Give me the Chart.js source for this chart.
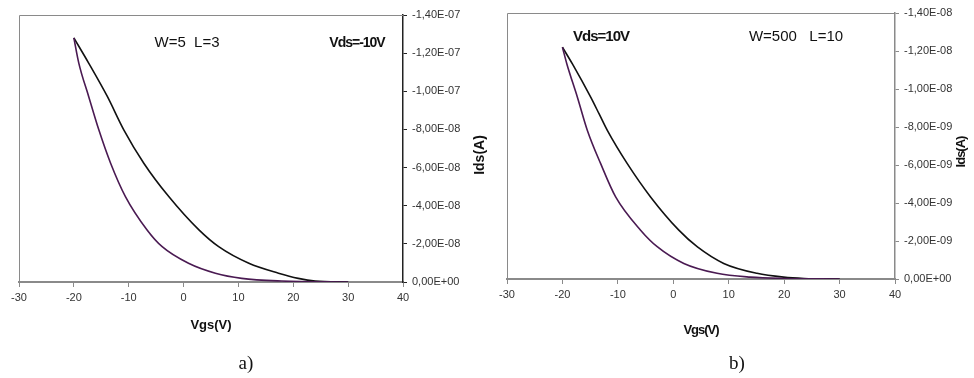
<!DOCTYPE html>
<html>
<head>
<meta charset="utf-8">
<title>Ids vs Vgs hysteresis</title>
<script src="https://cdn.jsdelivr.net/npm/chart.js@4.4.1/dist/chart.umd.min.js"></script>
<style>
  html, body { margin: 0; padding: 0; background: #fff; }
  #wrap { position: relative; width: 974px; height: 378px; overflow: hidden; }
  .panel { position: absolute; top: 0; width: 487px; height: 378px; }
  #panelA { left: 0; }
  #panelB { left: 487px; }
</style>
</head>
<body>
<div id="wrap">
  <div class="panel" id="panelA"><canvas id="chartA"></canvas></div>
  <div class="panel" id="panelB"><canvas id="chartB"></canvas></div>
</div>
<script>
// x axis ticks (Vgs, V) shared by both panels
const vgsTicks = [-30, -20, -10, 0, 10, 20, 30, 40];

// panel a) W=5 L=3, Vds=-10V
const idsTicksA = [0, -2e-8, -4e-8, -6e-8, -8e-8, -1e-7, -1.2e-7, -1.4e-7];
const vgsUpA  = [-20, -17.3, -13.9, -10.9, -7.25, -2.7, 2.8, 6.4, 11.9, 17.3, 20.9, 24, 30];
const idsUpA  = [-1.28e-7, -1.148e-7, -9.73e-8, -7.98e-8, -6.23e-8, -4.48e-8, -2.73e-8, -1.85e-8, -9.8e-9, -4.6e-9, -1.9e-9, -5e-10, 0];
const vgsLowA = [-20, -19.1, -17.3, -15.45, -13.3, -10.6, -6.65, -3.9, 0.9, 5.8, 10.6, 17.9, 30];
const idsLowA = [-1.28e-7, -1.148e-7, -9.73e-8, -7.98e-8, -6.23e-8, -4.48e-8, -2.73e-8, -1.85e-8, -9.8e-9, -4.6e-9, -1.9e-9, -5e-10, 0];

// panel b) W=500 L=10, Vds=10V
const idsTicksB = [0, -2e-9, -4e-9, -6e-9, -8e-9, -1e-8, -1.2e-8, -1.4e-8];
const vgsUpB  = [-20, -18.2, -14.9, -13.4, -11.9, -8.3, -4.1, 1.0, 4.3, 9.1, 15.1, 19.9, 23.6, 30];
const idsUpB  = [-1.22e-8, -1.132e-8, -9.57e-9, -8.7e-9, -7.82e-9, -6.07e-9, -4.32e-9, -2.57e-9, -1.7e-9, -8.2e-10, -3e-10, -1e-10, -3e-11, 0];
const vgsLowB = [-20, -19.2, -17.3, -15.5, -13.1, -10.4, -5.9, -2.9, 1.9, 7.9, 13.9, 19.9, 30];
const idsLowB = [-1.22e-8, -1.132e-8, -9.57e-9, -7.82e-9, -6.07e-9, -4.32e-9, -2.57e-9, -1.7e-9, -8.2e-10, -3e-10, -1e-10, -3e-11, 0];

const FONT = '"Liberation Sans", Arial, sans-serif';

function toPoints(xs, ys) {
  return xs.map((x, i) => ({ x: x, y: ys[i] }));
}

// "-1,40E-07" style labels
function sciLabel(v) {
  if (Math.abs(v) < 1e-15) return '0,00E+00';
  const parts = v.toExponential(2).split('e');
  const exp = parseInt(parts[1], 10);
  return parts[0].replace('.', ',') + 'E' + (exp < 0 ? '-' : '+') + String(Math.abs(exp)).padStart(2, '0');
}

// frame lines, axis titles and the in-plot notes
const decorPlugin = {
  id: 'decor',
  afterDraw(chart, args, opts) {
    const ctx = chart.ctx;
    const a = chart.chartArea;
    ctx.save();
    ctx.strokeStyle = '#8a8a8a';
    ctx.lineWidth = 1;
    ctx.beginPath();
    ctx.moveTo(a.left + 0.5, a.bottom);
    ctx.lineTo(a.left + 0.5, a.top + 0.5);
    ctx.lineTo(a.right, a.top + 0.5);
    ctx.stroke();

    ctx.fillStyle = '#111';
    ctx.textAlign = 'center';
    ctx.textBaseline = 'middle';

    // x title
    ctx.font = 'bold 13px ' + FONT;
    ctx.letterSpacing = opts.squeeze ? '-1px' : '0px';
    ctx.fillText('Vgs(V)', (a.left + a.right) / 2, opts.xTitleY);

    // y title, reads bottom to top
    ctx.save();
    ctx.font = 'bold ' + opts.yTitleSize + 'px ' + FONT;
    ctx.translate(opts.yTitleX, opts.yTitleY);
    ctx.rotate(-Math.PI / 2);
    ctx.fillText('Ids(A)', 0, 0);
    ctx.restore();

    // notes
    opts.notes.forEach(n => {
      ctx.font = (n.bold ? 'bold ' : '') + n.size + 'px ' + FONT;
      ctx.letterSpacing = n.bold ? '-1px' : '0px';
      ctx.fillText(n.text, n.x, n.y);
    });

    // caption
    ctx.letterSpacing = '0px';
    ctx.font = '19px "Liberation Serif", "DejaVu Serif", serif';
    ctx.fillText(opts.caption, opts.captionX, 364);
    ctx.restore();
  }
};

function makeChart(canvasId, up, low, yTicks, setup) {
  const ctx = document.getElementById(canvasId);
  return new Chart(ctx, {
    type: 'scatter',
    data: {
      datasets: [
        {
          data: low,
          showLine: true,
          borderColor: '#4a1a52',
          borderWidth: 1.6,
          pointRadius: 0,
          cubicInterpolationMode: 'monotone'
        },
        {
          data: up,
          showLine: true,
          borderColor: '#111111',
          borderWidth: 1.6,
          pointRadius: 0,
          cubicInterpolationMode: 'monotone'
        }
      ]
    },
    options: {
      responsive: true,
      maintainAspectRatio: false,
      animation: false,
      events: [],
      layout: { padding: { left: setup.left, top: setup.top, right: 0, bottom: 0 } },
      plugins: {
        legend: { display: false },
        tooltip: { enabled: false },
        decor: setup.decor
      },
      scales: {
        x: {
          type: 'linear',
          min: -30,
          max: 40,
          afterFit: s => { s.height = setup.xHeight; },
          afterBuildTicks: s => { s.ticks = vgsTicks.map(v => ({ value: v })); },
          grid: { drawOnChartArea: false, drawTicks: true, tickLength: 5, color: '#8a8a8a' },
          border: { display: true, color: '#8a8a8a', width: 2 },
          ticks: {
            padding: 4,
            color: '#333',
            font: { family: FONT, size: 11 },
            maxRotation: 0
          }
        },
        y: {
          type: 'linear',
          position: 'right',
          reverse: true,
          min: yTicks[yTicks.length - 1],
          max: 0,
          afterFit: s => { s.width = setup.yWidth; },
          afterBuildTicks: s => { s.ticks = yTicks.map(v => ({ value: v })); },
          grid: { drawOnChartArea: false, drawTicks: true, tickLength: 4, color: setup.yColor },
          border: { display: true, color: setup.yColor, width: 1.5 },
          ticks: {
            padding: 5,
            color: '#333',
            font: { family: FONT, size: 11 },
            callback: v => sciLabel(v)
          }
        }
      }
    },
    plugins: [decorPlugin]
  });
}

makeChart('chartA', toPoints(vgsUpA, idsUpA), toPoints(vgsLowA, idsLowA), idsTicksA, {
  left: 19, top: 15, xHeight: 96, yWidth: 84, yColor: '#222',
  decor: {
    xTitleY: 325, yTitleX: 480, yTitleY: 155, yTitleSize: 14,
    caption: 'a)', captionX: 246, squeeze: false,
    notes: [
      { text: 'W=5  L=3', x: 187, y: 43, size: 15, bold: false },
      { text: 'Vds=-10V', x: 357, y: 43, size: 14, bold: true }
    ]
  }
});

makeChart('chartB', toPoints(vgsUpB, idsUpB), toPoints(vgsLowB, idsLowB), idsTicksB, {
  left: 20, top: 13, xHeight: 99, yWidth: 79, yColor: '#8a8a8a',
  decor: {
    xTitleY: 330, yTitleX: 474, yTitleY: 152, yTitleSize: 13,
    caption: 'b)', captionX: 250, squeeze: true,
    notes: [
      { text: 'Vds=10V', x: 114, y: 37, size: 15, bold: true },
      { text: 'W=500   L=10', x: 309, y: 37, size: 15, bold: false }
    ]
  }
});
</script>
</body>
</html>
